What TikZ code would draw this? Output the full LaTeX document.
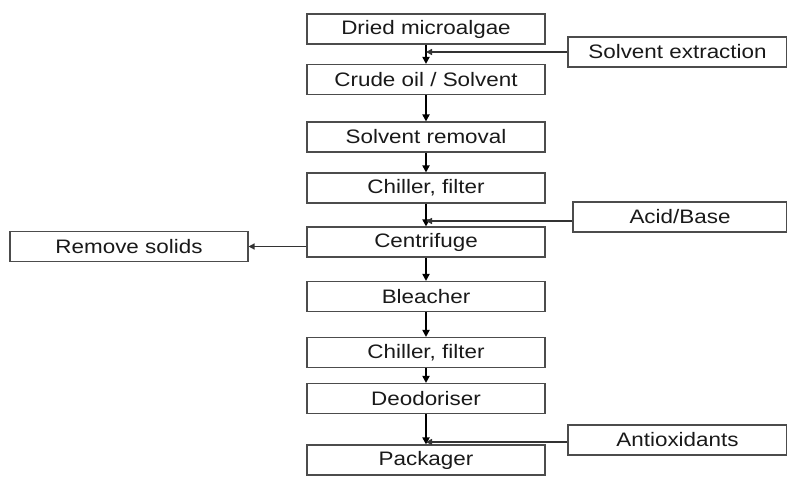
\documentclass[tikz,border=0pt]{standalone}
\usepackage{fontspec}
\setmainfont[FakeStretch=1.15]{Liberation Sans}
\usetikzlibrary{arrows.meta}
\begin{document}
\begin{tikzpicture}[x=1pt,y=-1pt,
 box/.style={draw=black!70,line width=1.1pt,minimum width=238pt,minimum height=30pt,inner sep=0pt,text=black!90,font=\fontsize{19.5}{21}\selectfont},
 flow/.style={line width=2.2pt,-{Triangle[length=7pt,width=7pt]}},
 feed/.style={line width=1.5pt,draw=black!80,-{Triangle[length=6pt,width=6pt]}}]
\useasboundingbox (0,0) rectangle (787,481);
\node[box] (d1) at (426,29) {Dried microalgae};
\node[box] (d2) at (426,79.5) {Crude oil / Solvent};
\node[box] (d3) at (426,137) {Solvent removal};
\node[box] (d4) at (426,188) {Chiller, filter};
\node[box] (d5) at (426,242) {Centrifuge};
\node[box] (d6) at (426,296.5) {Bleacher};
\node[box] (d7) at (426,352.5) {Chiller, filter};
\node[box] (d8) at (426,398.5) {Deodoriser};
\node[box] (d9) at (426,460) {Packager};
\node[box,minimum width=219pt] (se) at (677.5,52) {Solvent extraction};
\node[box,minimum width=214pt] (ab) at (680,217) {Acid/Base};
\node[box,minimum width=219pt] (ao) at (677.5,440) {Antioxidants};
\node[box] (rs) at (129,246.5) {Remove solids};
\foreach \a/\b in {d1/d2,d2/d3,d3/d4,d4/d5,d5/d6,d6/d7,d7/d8,d8/d9}
  \draw[flow] (\a.south) -- (\b.north);
\coordinate (j1) at (se.west -| d1.south);
\coordinate (j2) at ([yshift=-4pt]ab.west -| d4.south);
\coordinate (j3) at ([yshift=-2pt]ao.west -| d8.south);
\draw[feed] (se.west) -- (j1);
\draw[feed] ([yshift=-4pt]ab.west) -- (j2);
\draw[feed] ([yshift=-2pt]ao.west) -- (j3);
\draw[feed] (d5.west |- rs.east) -- (rs.east);
\end{tikzpicture}
\end{document}
